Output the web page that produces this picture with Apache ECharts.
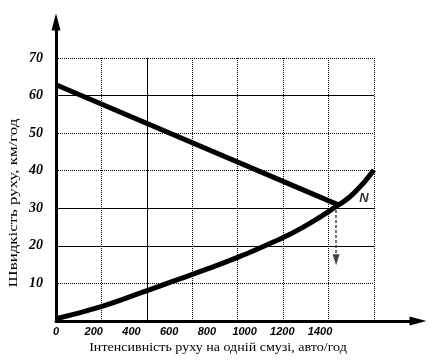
<!DOCTYPE html>
<html>
<head>
<meta charset="utf-8">
<script src="https://cdn.jsdelivr.net/npm/echarts@6/dist/echarts.min.js"></script>
<style>
html,body{margin:0;padding:0;background:#fff;}
#c{width:442px;height:364px;}
</style>
</head>
<body>
<div id="c"></div>
<script>
// ---- data ----
const xTickLabels = [0, 200, 400, 600, 800, 1000, 1200, 1400];
const yTickLabels = [10, 20, 30, 40, 50, 60, 70];
const speedLine = [[0, 62.9], [1497, 30.9]];
const flowCurve = [
  [0, 0.6], [244, 3.9], [445, 7.4], [622, 10.6], [799, 13.8], [976, 17.2],
  [1152, 21.0], [1311, 25.0], [1489, 30.6], [1577, 33.9], [1686, 40.2]
];
const dropX = 1485, dropFrom = 30.9, dropTo = 16.3;
const pointN = [1633, 32.5];
const xTitle = 'Інтенсивність руху на одній смузі, авто/год';
const yTitle = 'Швидкість руху, км/год';
const solidH = [20, 30, 60];
const solidVIndex = [2];

const chart = echarts.init(document.getElementById('c'), null, {renderer: 'canvas'});

const hColors = [];
for (let v = 0; v <= 70; v += 10) hColors.push(solidH.indexOf(v) >= 0 ? '#000' : 'rgba(0,0,0,0)');
const vColors = [];
for (let i = 0; i <= 7; i++) vColors.push(solidVIndex.indexOf(i) >= 0 ? '#000' : 'rgba(0,0,0,0)');

const option = {
  animation: false,
  backgroundColor: '#fff',
  grid: [
    {left: 56, right: 68, top: 58, bottom: 43},
    {left: 56, right: 24, top: 22, bottom: 43}
  ],
  xAxis: [
    { // main data axis
      type: 'value', gridIndex: 0, min: 0, max: 1686, interval: 200,
      axisLine: {show: false}, axisTick: {show: false}, splitLine: {show: false},
      axisLabel: {
        margin: 5,
        formatter: v => (xTickLabels.indexOf(v) >= 0 ? String(v) : ''),
        color: '#000', fontFamily: 'Liberation Sans', fontStyle: 'italic',
        fontWeight: 'bold', fontSize: 11
      }
    },
    { // dotted vertical grid
      type: 'value', gridIndex: 0, min: 0, max: 7, interval: 1,
      axisLine: {show: false}, axisTick: {show: false}, axisLabel: {show: false},
      splitLine: {show: true, lineStyle: {color: '#000', width: 1, type: [1, 1]}}
    },
    { // solid vertical grid lines
      type: 'value', gridIndex: 0, min: 0, max: 7, interval: 1,
      axisLine: {show: false}, axisTick: {show: false}, axisLabel: {show: false},
      splitLine: {show: true, lineStyle: {color: vColors, width: 1, type: 'solid'}}
    },
    { // arrow axis
      type: 'value', gridIndex: 1, min: 0, max: 1,
      axisLine: {show: true, symbol: ['none', 'triangle'], symbolSize: [9, 17],
        lineStyle: {color: '#000', width: 3}},
      axisTick: {show: false}, axisLabel: {show: false}, splitLine: {show: false}
    }
  ],
  yAxis: [
    {
      type: 'value', gridIndex: 0, min: 0, max: 70, interval: 10,
      axisLine: {show: false}, axisTick: {show: false},
      splitLine: {show: true, lineStyle: {color: '#000', width: 1, type: [1, 1]}},
      axisLabel: {
        margin: 13,
        formatter: v => (yTickLabels.indexOf(v) >= 0 ? String(v) : ''),
        color: '#000', fontFamily: 'Liberation Serif', fontStyle: 'italic',
        fontWeight: 'bold', fontSize: 14
      }
    },
    {
      type: 'value', gridIndex: 0, min: 0, max: 70, interval: 10,
      axisLine: {show: false}, axisTick: {show: false}, axisLabel: {show: false},
      splitLine: {show: true, lineStyle: {color: hColors, width: 1, type: 'solid'}}
    },
    {
      type: 'value', gridIndex: 1, min: 0, max: 1,
      axisLine: {show: true, symbol: ['none', 'triangle'], symbolSize: [9, 17],
        lineStyle: {color: '#000', width: 3}},
      axisTick: {show: false}, axisLabel: {show: false}, splitLine: {show: false}
    }
  ],
  series: [
    {
      type: 'line', xAxisIndex: 0, yAxisIndex: 0, data: speedLine,
      symbol: 'none', lineStyle: {color: '#000', width: 5}, z: 5
    },
    {
      type: 'line', xAxisIndex: 0, yAxisIndex: 0, data: flowCurve,
      symbol: 'none', smooth: 0.5, lineStyle: {color: '#000', width: 5}, z: 5,
      markLine: {
        silent: true, symbol: ['none', 'triangle'], symbolSize: [7, 11],
        symbolRotate: 180,
        label: {show: false},
        lineStyle: {color: '#444', width: 1.5, type: [3, 2]},
        data: [[{coord: [dropX, dropFrom]}, {coord: [dropX, dropTo]}]]
      }
    },
    {
      type: 'scatter', xAxisIndex: 0, yAxisIndex: 0, data: [pointN],
      symbolSize: 0,
      label: {show: true, position: 'inside', formatter: 'N', color: '#000',
        fontFamily: 'Liberation Sans', fontStyle: 'italic', fontWeight: 'bold', fontSize: 13}
    }
  ],
  graphic: [
    {type: 'text', x: 218, y: 348, scaleX: 1.08,
      style: {text: xTitle, fill: '#000', font: '13px "Liberation Serif"',
        align: 'center', verticalAlign: 'middle'}},
    {type: 'text', x: 14, y: 203, rotation: Math.PI / 2, scaleX: 1.3,
      style: {text: yTitle, fill: '#000', font: '13px "Liberation Serif"',
        align: 'center', verticalAlign: 'middle'}}
  ]
};
chart.setOption(option);
</script>
</body>
</html>
